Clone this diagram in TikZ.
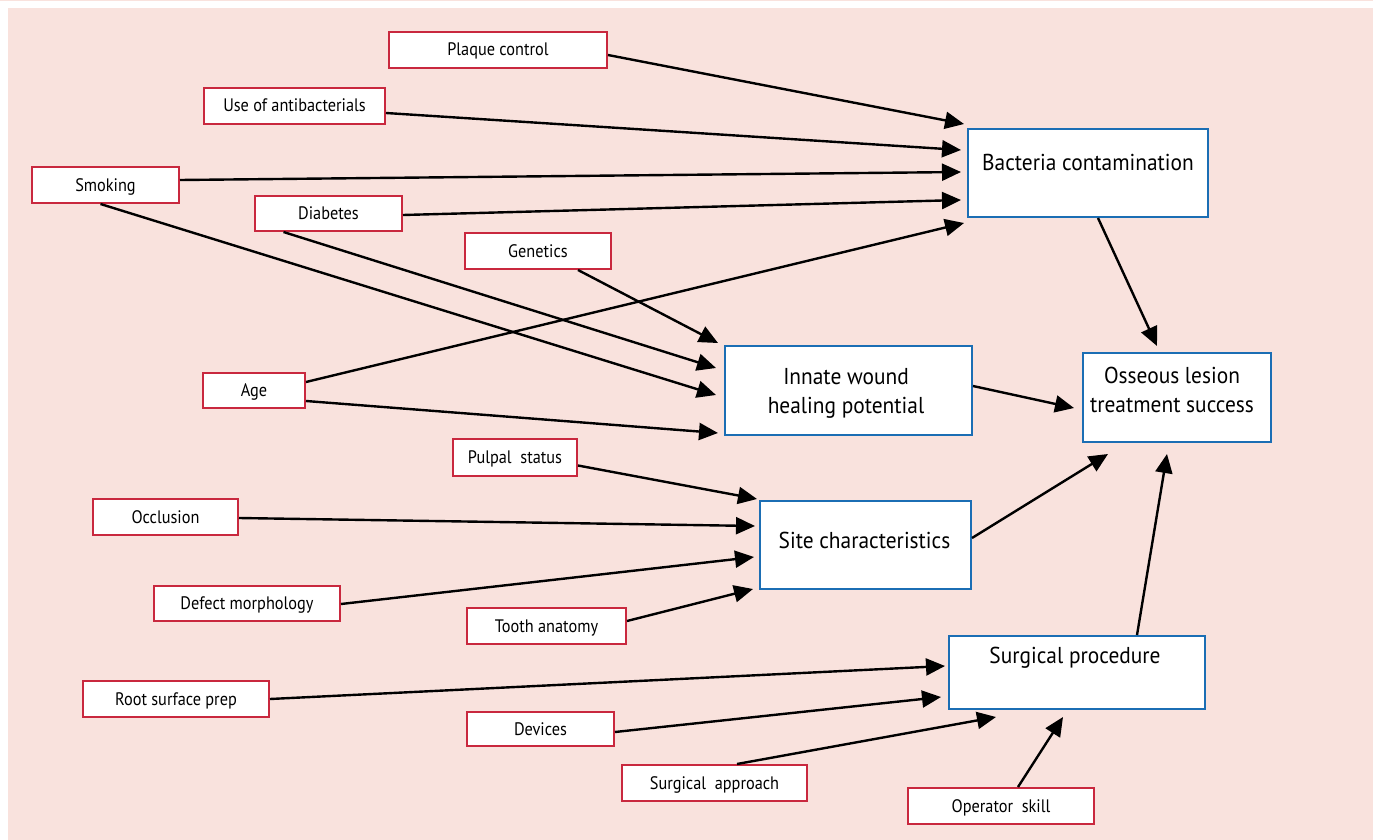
\documentclass[tikz,border=0pt]{standalone}
\usepackage{fontspec}
\setmainfont{PT Sans}[FakeStretch=0.9]
\newfontfamily\bigf{PT Sans}[FakeStretch=0.93]
\usetikzlibrary{arrows.meta,calc}
\definecolor{bgpink}{HTML}{F9E2DD}
\definecolor{rcol}{HTML}{C9283E}
\definecolor{bcol}{HTML}{1B6EB4}
\tikzset{
  rbox/.style={draw=rcol, line width=2pt, fill=white, inner sep=0pt, text height=14pt, text depth=2pt, font=\fontsize{18.1}{20}\selectfont},
  bbox/.style={draw=bcol, line width=2pt, fill=white, inner sep=0pt},
  btext/.style={inner sep=0pt, align=center, font=\bigf\fontsize{23}{29}\selectfont},
  arr/.style={line width=2.4pt, -{Triangle[length=19pt,width=17pt]}}
}
\begin{document}
\begin{tikzpicture}[x=1pt,y=-1pt]
\useasboundingbox (0,0) rectangle (1373,840);
\fill[white] (0,0) rectangle (1373,840);
\fill[bgpink] (8,8) rectangle (1373,840);
\fill[bgpink] (0,0) rectangle (1373,1.5);
% red boxes
\node[rbox, minimum width=218pt, minimum height=36pt] (pc) at (498,50) {Plaque control};
\node[rbox, minimum width=181pt, minimum height=36pt] (ua) at (294.5,106) {Use of antibacterials};
\node[rbox, minimum width=147pt, minimum height=36pt] (sm) at (105.5,185) {Smoking};
\node[rbox, minimum width=147pt, minimum height=35pt] (di) at (328.5,213.5) {Diabetes};
\node[rbox, minimum width=146pt, minimum height=36pt] (ge) at (538,251) {Genetics};
\node[rbox, minimum width=102pt, minimum height=35pt] (ag) at (254,390.5) {Age};
\node[rbox, minimum width=124pt, minimum height=37pt] (ps) at (515,457.5) {Pulpal\ \ status};
\node[rbox, minimum width=145pt, minimum height=36pt] (oc) at (165.5,517) {Occlusion};
\node[rbox, minimum width=186pt, minimum height=35pt] (dm) at (247,603.5) {Defect morphology};
\node[rbox, minimum width=159pt, minimum height=36pt] (ta) at (546.5,626) {Tooth anatomy};
\node[rbox, minimum width=186pt, minimum height=36pt] (rs) at (176,699) {Root surface prep};
\node[rbox, minimum width=147pt, minimum height=34pt] (dv) at (540.5,729) {Devices};
\node[rbox, minimum width=185pt, minimum height=36pt] (sa) at (714.5,783) {Surgical\ \ approach};
\node[rbox, minimum width=186pt, minimum height=36pt] (os) at (1001,806) {Operator\ \ skill};
% blue boxes
\node[bbox, minimum width=240pt, minimum height=88pt] (bc) at (1088,173) {};
\node[btext, anchor=base] (bct) at (1088,171) {Bacteria contamination};
\node[bbox, minimum width=247pt, minimum height=89pt] (iw) at (848.5,390.5) {};
\node[btext] (iwt) at (846,393) {Innate wound\\healing potential};
\node[bbox, minimum width=188pt, minimum height=89pt] (ol) at (1177,397.5) {};
\node[btext] (olt) at (1172,390) {Osseous lesion\\treatment success};
\node[bbox, minimum width=211pt, minimum height=88pt] (sc) at (865.5,545) {};
\node[btext, anchor=base] (sct) at (864.5,548) {Site characteristics};
\node[bbox, minimum width=256pt, minimum height=73pt] (sp) at (1077,672.5) {};
\node[btext, anchor=base] (spt) at (1075,663) {Surgical procedure};
% arrows
\draw[arr] ($(pc.east)+(0,5)$) -- ($(bc.north west)+(-3,-4)$);
\draw[arr] ($(ua.east)+(0,7)$) -- ($(bc.west)+(-6,-23)$);
\draw[arr] ($(sm.east)+(0,-5)$) -- ($(bc.west)+(-6,-1)$);
\draw[arr] ($(di.east)+(0,1.5)$) -- ($(bc.west)+(-6,27)$);
\draw[arr] ($(ag.east)+(0,-8.5)$) -- ($(bc.west)+(-3,50)$);
\draw[arr] ($(bc.south)+(10,0)$) -- ($(ol.north)+(-20,-6)$);
\draw[arr] ($(sm.south)+(-5,0)$) -- ($(iw.west)+(-8,4.5)$);
\draw[arr] ($(di.south)+(-45,0)$) -- ($(iw.west)+(-8,-22.5)$);
\draw[arr] ($(ge.south)+(40,0)$) -- ($(iw.north west)+(-6,-2)$);
\draw[arr] ($(ag.east)+(0,10.5)$) -- ($(iw.south west)+(-6,-3)$);
\draw[arr] ($(iw.east)+(0,-4.5)$) -- ($(ol.west)+(-8,10.5)$);
\draw[arr] ($(ps.east)+(0,8)$) -- ($(sc.north west)+(-2,-1)$);
\draw[arr] ($(oc.east)+(0,1)$) -- ($(sc.west)+(-4,-19)$);
\draw[arr] ($(dm.east)+(0,0.5)$) -- ($(sc.west)+(-5,12)$);
\draw[arr] ($(ta.east)+(0,-5)$) -- ($(sc.south west)+(-6,-1)$);
\draw[arr] ($(sc.east)+(0,-7)$) -- ($(ol.south west)+(26,11)$);
\draw[arr] ($(sp.north)+(60,0)$) -- ($(ol.south)+(-10,11)$);
\draw[arr] (rs.east) -- ($(sp.west)+(-3,-6.5)$);
\draw[arr] ($(dv.east)+(0,3)$) -- ($(sp.west)+(-7,24.5)$);
\draw[arr] ($(sa.north)+(22.5,0)$) -- ($(sp.south west)+(48,7)$);
\draw[arr] ($(os.north)+(17,0)$) -- ($(sp.south)+(-14,7)$);
\end{tikzpicture}
\end{document}
